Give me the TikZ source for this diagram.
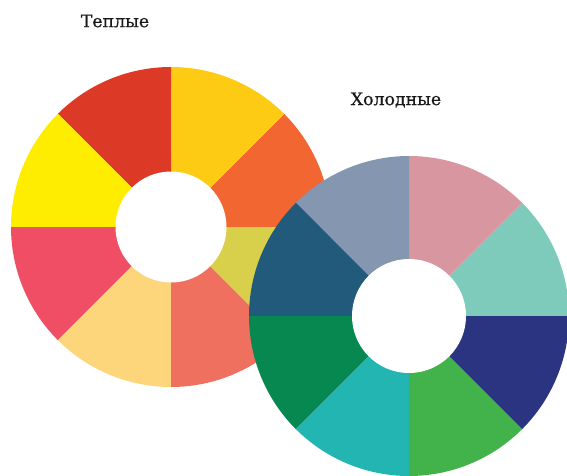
\documentclass[tikz,border=0pt]{standalone}
\usepackage{fontspec}
\setmainfont{DejaVu Serif}
\newfontfamily\wheelfont[FakeBold=0.7]{DejaVu Serif}
% warm colours, counter-clockwise from 0 degrees
\definecolor{warmA}{HTML}{F26631}
\definecolor{warmB}{HTML}{FDCB14}
\definecolor{warmC}{HTML}{DC3A26}
\definecolor{warmD}{HTML}{FFED00}
\definecolor{warmE}{HTML}{F04E64}
\definecolor{warmF}{HTML}{FDD57A}
\definecolor{warmG}{HTML}{F07060}
\definecolor{warmH}{HTML}{D8D04A}
% cold colours
\definecolor{coldA}{HTML}{7FCBBB}
\definecolor{coldB}{HTML}{D896A0}
\definecolor{coldC}{HTML}{8496B0}
\definecolor{coldD}{HTML}{215A7A}
\definecolor{coldE}{HTML}{078851}
\definecolor{coldF}{HTML}{23B5B2}
\definecolor{coldG}{HTML}{42B34A}
\definecolor{coldH}{HTML}{2B3481}
\begin{document}
\begin{tikzpicture}[x=1pt, y=1pt,
    wheellabel/.style={font=\wheelfont\fontsize{17.3}{20}\selectfont, text=black!90}]
    \useasboundingbox (0,0) rectangle (567,475);
    \clip (0,0) rectangle (567,475);
    \coordinate (warm) at (171,248);
    \coordinate (cold) at (409,159);
    \foreach \c [count=\i from 0] in {warmA,warmB,warmC,warmD,warmE,warmF,warmG,warmH}
        \fill[\c] (warm) -- ++(\i*45:160) arc[start angle=\i*45, end angle=\i*45+45, radius=160] -- cycle;
    \fill[white] (warm) circle[radius=55.5];
    \foreach \c [count=\i from 0] in {coldA,coldB,coldC,coldD,coldE,coldF,coldG,coldH}
        \fill[\c] (cold) -- ++(\i*45:160) arc[start angle=\i*45, end angle=\i*45+45, radius=160] -- cycle;
    \fill[white] (cold) circle[radius=57];
    \node[wheellabel] (warmlabel) at (115,454) {Теплые};
    \node[wheellabel] (coldlabel) at (396,375) {Холодные};
\end{tikzpicture}
\end{document}
